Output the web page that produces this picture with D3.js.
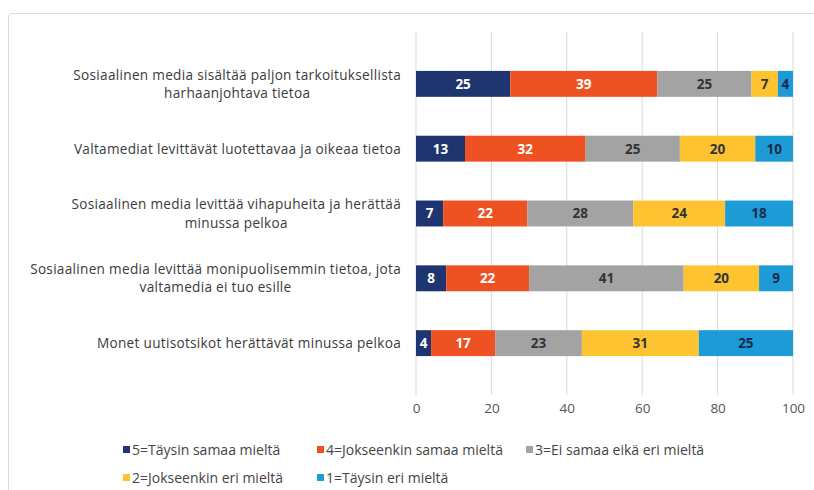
<!DOCTYPE html>
<html lang="fi">
<head>
<meta charset="UTF-8">
<title>Sosiaalinen media ja valtamedia</title>
<script src="https://cdn.jsdelivr.net/npm/d3@7"></script>
<style>
  body { margin: 0; background: #fff; }
  svg { display: block; font-family: "Open Sans", Lato, sans-serif; }
</style>
</head>
<body>
<svg width="814" height="490"></svg>
<script>
// data
var categories = [
  "Sosiaalinen media sisältää paljon tarkoituksellista\nharhaanjohtava tietoa",
  "Valtamediat levittävät luotettavaa ja oikeaa tietoa",
  "Sosiaalinen media levittää vihapuheita ja herättää\nminussa pelkoa",
  "Sosiaalinen media levittää monipuolisemmin tietoa, jota\nvaltamedia ei tuo esille",
  "Monet uutisotsikot herättävät minussa pelkoa"
];
var seriesNames = ["5=Täysin samaa mieltä", "4=Jokseenkin samaa mieltä", "3=Ei samaa eikä eri mieltä",
                   "2=Jokseenkin eri mieltä", "1=Täysin eri mieltä"];
// shares in %, labels shown rounded
var s5 = [25, 13, 7.2, 8, 4];
var s4 = [39, 32, 22.3, 22, 17];
var s3 = [25, 25, 28.1, 41, 23];
var s2 = [7, 20, 24.4, 20, 31];
var s1 = [4, 10, 18, 9, 25];
var xTicks = [0, 20, 40, 60, 80, 100];

var colors = ["#1f356f", "#ee5223", "#a3a3a3", "#fec330", "#1d9bd7"];
var labelColors = ["#ffffff", "#ffffff", "#333333", "#333333", "#1a2b4a"];

var svg = d3.select("svg");

// frame
svg.append("rect")
  .attr("x", 8.5).attr("y", 13.5)
  .attr("width", 830).attr("height", 500)
  .attr("rx", 3)
  .attr("fill", "none").attr("stroke", "#dcdcdc");

var x = d3.scaleLinear().domain([0, 100]).range([416, 793]);
var y = d3.scaleBand().domain(d3.range(categories.length)).range([32, 395]).padding(0.6);

// grid
svg.append("g").selectAll("line").data(xTicks).enter().append("line")
  .attr("x1", function(d) { return x(d); })
  .attr("x2", function(d) { return x(d); })
  .attr("y1", 32).attr("y2", 395)
  .attr("stroke", "#d9d9d9").attr("stroke-width", 1);

// x axis labels
var xAxis = d3.axisBottom(x).tickValues(xTicks).tickSize(0).tickPadding(0);
var ax = svg.append("g").attr("transform", "translate(0,403)").call(xAxis);
ax.select(".domain").remove();
ax.selectAll("text").attr("font-size", 13.5).attr("fill", "#555").attr("font-family", "'Open Sans', sans-serif");

// stacked data
var series = [s5, s4, s3, s2, s1];
var rows = categories.map(function(c, i) {
  var r = { idx: i };
  series.forEach(function(s, k) { r["k" + k] = s[i]; });
  return r;
});
var stack = d3.stack().keys(series.map(function(s, k) { return "k" + k; }));
var stacked = stack(rows);

var layers = svg.append("g").selectAll("g").data(stacked).enter().append("g");
layers.each(function(layer, k) {
  var g = d3.select(this);
  g.selectAll("rect").data(layer).enter().append("rect")
    .attr("x", function(d) { return x(d[0]); })
    .attr("y", function(d, i) { return y(i); })
    .attr("width", function(d) { return x(d[1]) - x(d[0]); })
    .attr("height", y.bandwidth())
    .attr("fill", colors[k]);
  g.selectAll("text").data(layer).enter().append("text")
    .attr("x", function(d) { return (x(d[0]) + x(d[1])) / 2; })
    .attr("y", function(d, i) { return y(i) + y.bandwidth() / 2; })
    .attr("dy", "0.36em")
    .attr("text-anchor", "middle")
    .attr("font-size", 13.5)
    .attr("font-weight", "bold")
    .attr("fill", labelColors[k])
    .text(function(d) { return Math.round(d[1] - d[0]); });
});

// category labels: block right-aligned, lines centred
var catG = svg.append("g");
categories.forEach(function(c, i) {
  var lines = c.split("\n");
  var cy = y(i) + y.bandwidth() / 2;
  var lh = 18.5;
  var texts = lines.map(function(l, j) {
    return catG.append("text")
      .attr("font-size", 13.6)
      .attr("letter-spacing", "0.3px")
      .attr("fill", "#3b3b3b")
      .attr("text-anchor", "middle")
      .attr("y", cy + (j - (lines.length - 1) / 2) * lh)
      .attr("dy", "0.36em")
      .text(l);
  });
  var maxW = d3.max(texts, function(t) { return t.node().getComputedTextLength(); });
  texts.forEach(function(t) { t.attr("x", 401 - maxW / 2); });
});

// legend
var legendPos = [[123, 450], [317, 450], [526, 450], [123, 478], [317, 478]];
var lg = svg.append("g").selectAll("g").data(seriesNames).enter().append("g")
  .attr("transform", function(d, i) { return "translate(" + legendPos[i][0] + "," + legendPos[i][1] + ")"; });
lg.append("rect").attr("x", 0).attr("y", -4).attr("width", 7).attr("height", 7)
  .attr("fill", function(d, i) { return colors[i]; });
lg.append("text").attr("x", 9).attr("dy", "0.36em")
  .attr("font-size", 14).attr("fill", "#444")
  .text(function(d) { return d; });
</script>
</body>
</html>
